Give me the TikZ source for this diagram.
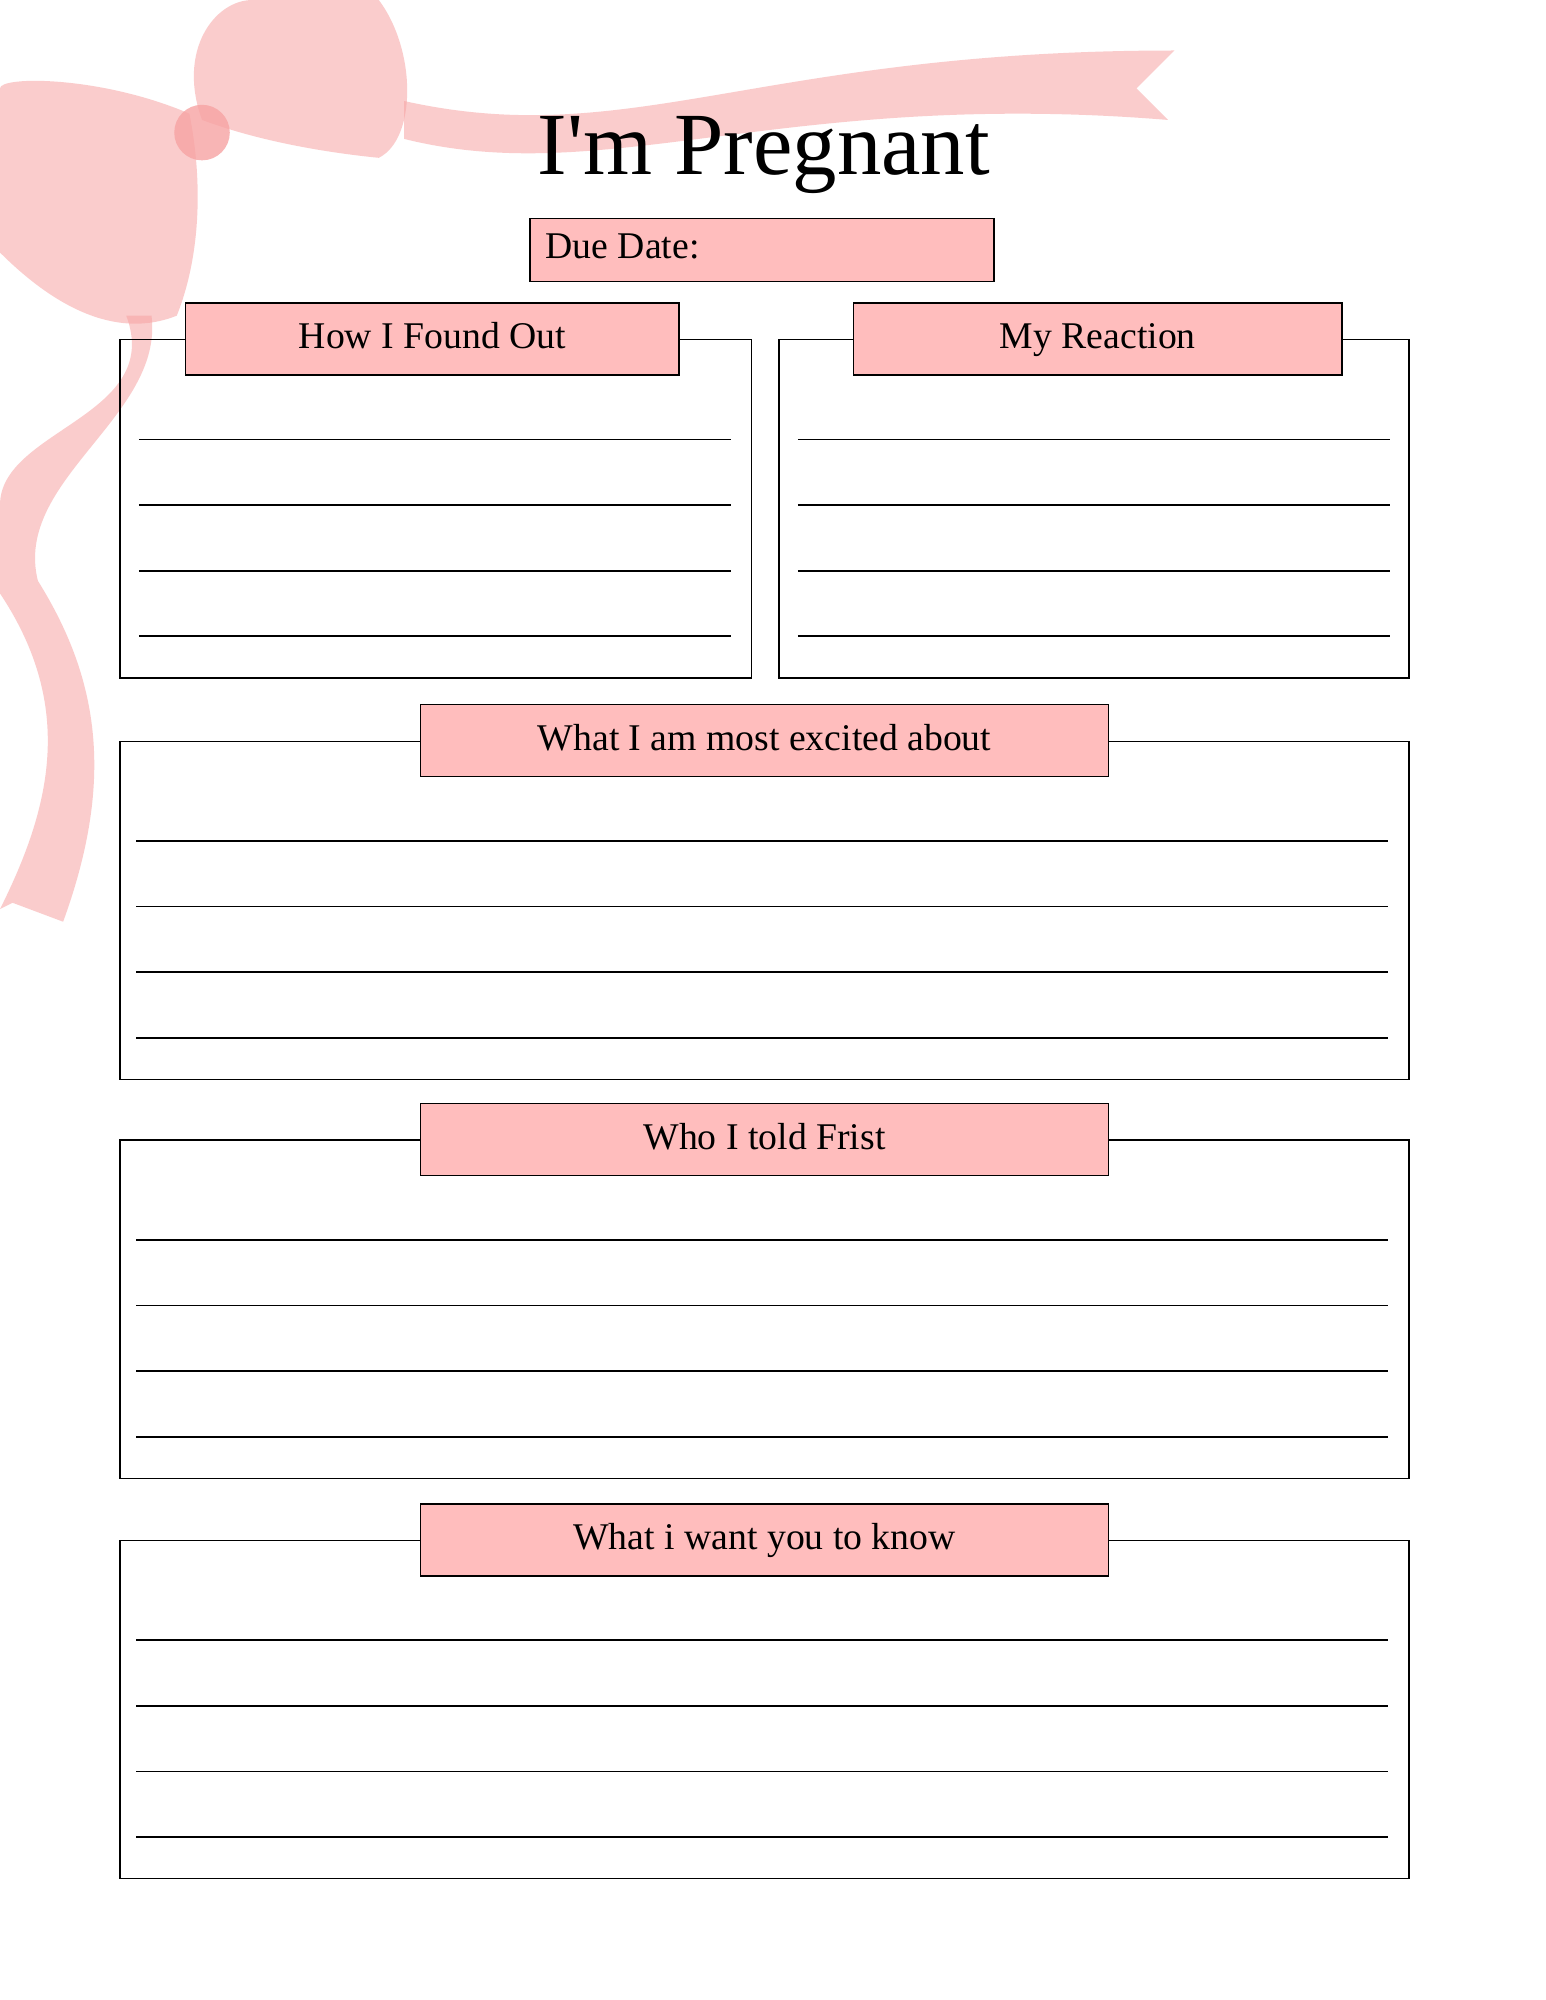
\documentclass[tikz,border=0pt]{standalone}
\usepackage{fontspec}
\setmainfont{Liberation Serif}
\usetikzlibrary{positioning}
\definecolor{headpink}{HTML}{FFBDBD}
\definecolor{bowpink}{HTML}{F7A3A3}
\begin{document}
\begin{tikzpicture}[x=0.02cm,y=-0.02cm]
      \tikzset{frame/.style={draw=black,line width=0.6pt},
               headbox/.style={draw=black,fill=headpink,line width=0.8pt},
               headtext/.style={font=\fontsize{17}{20}\selectfont,text height=12pt,text depth=4pt},
               writeline/.style={draw=black,line width=0.8pt},
               ribbon/.style={fill=bowpink,opacity=0.55,draw=none}}
      \useasboundingbox[fill=white] (0,0) rectangle (1224,1584);
% bow
\fill[ribbon] (320,80) .. controls (500,120) and (600,40) .. (930,40) -- (900,70) -- (925,95)
  .. controls (620,70) and (480,150) .. (320,110) -- cycle;
\fill[ribbon] (160,95) .. controls (140,40) and (170,0) .. (200,0) -- (300,0)
  .. controls (330,40) and (330,110) .. (300,125) .. controls (250,120) and (200,110) .. (160,95) -- cycle;
\fill[ribbon] (150,90) .. controls (80,60) and (0,60) .. (0,70) -- (0,200)
  .. controls (40,240) and (90,270) .. (140,250) .. controls (160,200) and (160,140) .. (150,90) -- cycle;
\fill[ribbon] (100,250) .. controls (130,330) and (0,340) .. (0,400) -- (0,470)
  .. controls (60,560) and (40,640) .. (0,720) -- (10,715) -- (50,730)
  .. controls (90,620) and (80,540) .. (30,460) .. controls (10,380) and (130,330) .. (120,250) -- cycle;
\fill[bowpink,opacity=0.8] (160,105) circle (22);
% title
\node[font=\fontsize{40}{46}\selectfont] (title) at (605,123) {I\textquotesingle m Pregnant};
\draw[headbox] (420,173) rectangle (787,223);
\node[headtext,anchor=west] (due) at (426,198) {Due Date:};
% sections
\foreach \fx/\fy/\fw/\hx/\hw/\lx/\lw/\name in
   {95/269/500/147/391/110/469/How I Found Out,
    617/269/499/676/387/632/469/My Reaction,
    95/587/1021/333/545/108/991/What I am most excited about,
    95/903/1021/333/545/108/991/Who I told Frist,
    95/1220/1021/333/545/108/991/What i want you to know}{
  \draw[frame] (\fx,\fy) rectangle ++(\fw,268);
  \foreach \k in {1,...,4}
    \draw[writeline] (\lx,\fy+27+52*\k) -- ++(\lw,0);
  \draw[headbox] (\hx,\fy-29) rectangle ++(\hw,57);
  \node[headtext] at (\hx+\hw/2,\fy) {\name};
}
    \end{tikzpicture}
\end{document}
